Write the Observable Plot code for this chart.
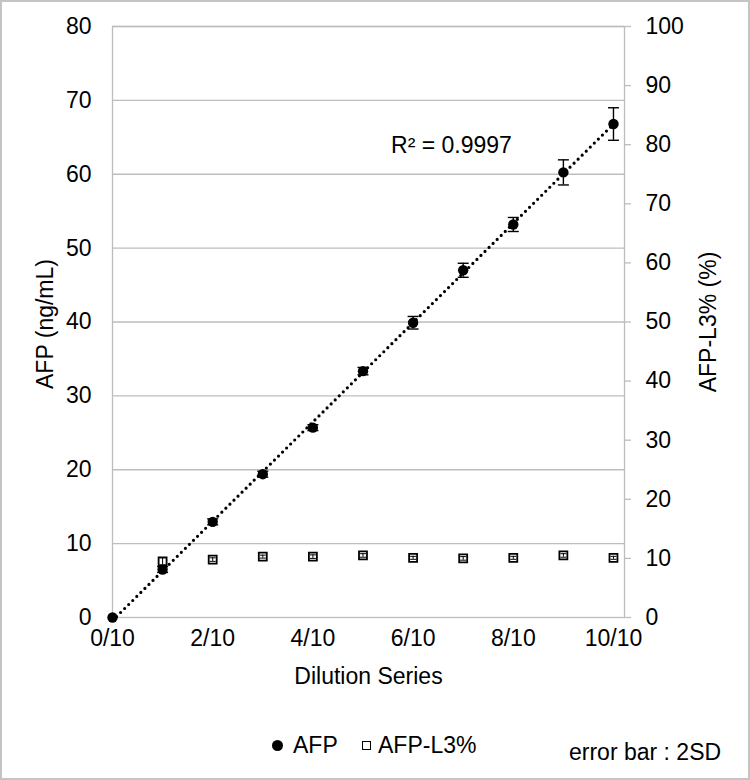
<!DOCTYPE html>
<html><head><meta charset="utf-8">
<script src="https://cdn.jsdelivr.net/npm/d3@7"></script>
<script src="https://cdn.jsdelivr.net/npm/@observablehq/plot@0.6"></script>
<style>
body{margin:0;background:#fff;font-family:"Liberation Sans",Arial,sans-serif;color:#000;}
#wrap{position:relative;width:750px;height:780px;overflow:hidden;background:#fff;}
#chart{position:absolute;left:0;top:0;}
#border{position:absolute;left:0;top:0;width:750px;height:780px;box-sizing:border-box;border:2px solid #c4c4c4;pointer-events:none;}
.lg{position:absolute;font-size:23px;height:30px;line-height:30px;white-space:nowrap;}
.sym-c{position:absolute;width:11px;height:11px;border-radius:50%;background:#000;}
.sym-s{position:absolute;width:9px;height:9px;box-sizing:border-box;border:1.5px solid #000;background:#fff;}
</style></head><body>
<div id="wrap">
  <div id="chart"></div>
  <div class="sym-c" style="left:272px;top:739.5px"></div>
  <div class="lg" id="lg1" style="left:293px;top:730px"></div>
  <div class="sym-s" style="left:362px;top:740.5px"></div>
  <div class="lg" id="lg2" style="left:378px;top:730px"></div>
  <div class="lg" id="note" style="left:569px;top:737px"></div>
  <div id="border"></div>
</div>
<script>
// ---- data ----
const dilution = [0, 1, 2, 3, 4, 5, 6, 7, 8, 9, 10];
const afp      = [0, 6.5, 12.95, 19.4, 25.7, 33.35, 39.9, 47.0, 53.2, 60.25, 66.8];
const afpErr   = [0, 0.4, 0.4, 0.4, 0.4, 0.5, 0.85, 0.95, 0.95, 1.7, 2.2];
const l3Dilution = [1, 2, 3, 4, 5, 6, 7, 8, 9, 10];
const afpL3      = [9.5, 9.8, 10.3, 10.3, 10.5, 10.1, 10.0, 10.1, 10.5, 10.1];
const afpL3Err   = [0.6, 0.3, 0.25, 0.3, 0.3, 0.25, 0.3, 0.25, 0.3, 0.25];
const xTickValues = [0, 2, 4, 6, 8, 10];
const xTickLabels = ["0/10", "2/10", "4/10", "6/10", "8/10", "10/10"];
const leftTicks  = [0, 10, 20, 30, 40, 50, 60, 70, 80];
const rightTicks = [0, 10, 20, 30, 40, 50, 60, 70, 80, 90, 100];
const seriesNames = ["AFP", "AFP-L3%"];
const r2Text = "R² = 0.9997";
const noteText = "error bar : 2SD";

// secondary axis (0–100 %) mapped onto primary (0–80 ng/mL)
const k = 80 / 100;

const afpRows = dilution.map((x, i) => ({x, y: afp[i], lo: afp[i] - afpErr[i], hi: afp[i] + afpErr[i], e: afpErr[i]}));
const afpErrRows = afpRows.filter(d => d.e > 0);
const l3Rows = l3Dilution.map((x, i) => ({x, y: afpL3[i] * k, lo: (afpL3[i] - afpL3Err[i]) * k, hi: (afpL3[i] + afpL3Err[i]) * k}));

const cap = {draw(ctx, size) { const r = Math.sqrt(size / Math.PI); ctx.moveTo(-r, 0); ctx.lineTo(r, 0); }};
const grey = "#bdbdbd";
const font = '"Liberation Sans", Arial, sans-serif';

const chart = Plot.plot({
  width: 750, height: 712,
  marginLeft: 112, marginRight: 126, marginTop: 26, marginBottom: 95,
  style: {fontFamily: font, fontSize: "23px", color: "#000", background: "transparent", overflow: "visible"},
  x: {domain: [0, 10.22]},
  y: {domain: [0, 80]},
  marks: [
    Plot.gridY(leftTicks.filter(v => v > 0), {stroke: grey, strokeOpacity: 1, strokeWidth: 1.3}),
    Plot.frame({stroke: grey, strokeWidth: 1.3}),
    Plot.axisY({anchor: "left", ticks: leftTicks, tickSize: 0, tickPadding: 21, label: null, fill: "#000"}),
    Plot.axisY({anchor: "right", ticks: rightTicks.map(v => v * k), tickFormat: d => String(Math.round(d / k)),
      tickSize: 6, tickPadding: 15, stroke: grey, strokeWidth: 1.3, fill: "#000", label: null}),
    Plot.axisX({ticks: xTickValues, tickFormat: d => xTickLabels[xTickValues.indexOf(d)], tickSize: 0, tickPadding: 12, label: null, fill: "#000"}),
    Plot.text(["Dilution Series"], {text: d => d, frameAnchor: "bottom", dy: 66, fill: "#000"}),
    Plot.text(["AFP (ng/mL)"], {text: d => d, frameAnchor: "left", textAnchor: "middle", rotate: -90, dx: -67, dy: 2, fill: "#000"}),
    Plot.text(["AFP-L3% (%)"], {text: d => d, frameAnchor: "right", textAnchor: "middle", rotate: -90, dx: 84, fill: "#000"}),
    Plot.linearRegressionY(afpRows, {x: "x", y: "y", stroke: "#000", strokeWidth: 3.2, strokeDasharray: "0,5.7", strokeLinecap: "round", ci: 0}),
    Plot.ruleX(afpErrRows, {x: "x", y1: "lo", y2: "hi", stroke: "#000", strokeWidth: 1.4}),
    Plot.dot(afpErrRows, {x: "x", y: "lo", symbol: cap, r: 5.5, stroke: "#000", strokeWidth: 1.4}),
    Plot.dot(afpErrRows, {x: "x", y: "hi", symbol: cap, r: 5.5, stroke: "#000", strokeWidth: 1.4}),
    Plot.dot(afpRows, {x: "x", y: "y", r: 5.2, fill: "#000"}),
    Plot.dot(l3Rows, {x: "x", y: "y", symbol: "square", r: 4.5, fill: "#fff", stroke: "#000", strokeWidth: 1.8}),
    Plot.ruleX(l3Rows, {x: "x", y1: "lo", y2: "hi", stroke: "#000", strokeWidth: 1}),
    Plot.dot(l3Rows, {x: "x", y: "lo", symbol: cap, r: 3, stroke: "#000", strokeWidth: 1}),
    Plot.dot(l3Rows, {x: "x", y: "hi", symbol: cap, r: 3, stroke: "#000", strokeWidth: 1}),
    Plot.text([r2Text], {text: d => d, x: 5.56, y: 63.9, textAnchor: "start", fill: "#000"})
  ]
});
document.getElementById("chart").appendChild(chart);
document.getElementById("lg1").textContent = seriesNames[0];
document.getElementById("lg2").textContent = seriesNames[1];
document.getElementById("note").textContent = noteText;
</script>
</body></html>
